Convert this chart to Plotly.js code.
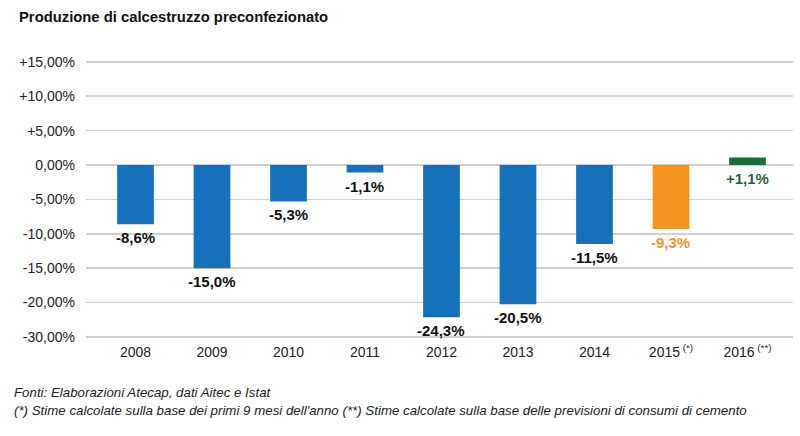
<!DOCTYPE html>
<html><head><meta charset="utf-8">
<script src="https://cdn.plot.ly/plotly-3.0.1.min.js"></script>
<style>html,body{margin:0;padding:0;background:#fff;}#chart{width:800px;height:436px;}</style>
</head><body><div id="chart"></div>
<script>
const years = ["2008","2009","2010","2011","2012","2013","2014","2015","2016"];
const yearLabels = ["2008","2009","2010","2011","2012","2013","2014","2015<sup> (*)</sup>","2016<sup> (**)</sup>"];
const values = [-8.6,-15.0,-5.3,-1.1,-24.3,-20.5,-11.5,-9.3,1.1];
const barColors = ["#1671bd","#1671bd","#1671bd","#1671bd","#1671bd","#1671bd","#1671bd","#f5931f","#1c6b3b"];
const labelColors = ["#111","#111","#111","#111","#111","#111","#111","#f5931f","#1c6b3b"];
const yTickVals = [15,10,5,0,-5,-10,-15,-20,-30];
const yTickText = ["+15,00%","+10,00%","+5,00%","0,00%","-5,00%","-10,00%","-15,00%","-20,00%","-30,00%"];

// The reference axis is broken: the last interval (-20 to -30) is drawn at half scale.
function scale(v){ return v >= -20 ? v : -20 + (v + 20) / 2; }

function fmt(v){ return (v>0?"+":"") + v.toFixed(1).replace(".",",") + "%"; }
const FONT = "Liberation Sans, Arial, sans-serif";

const annotations = values.map((v,i)=>({
  x: i, y: v>0 ? 0 : scale(v), xref:"x", yref:"y", text: fmt(v), showarrow:false,
  yanchor:"top", yshift: -3,
  font:{family:FONT, size:15, color:labelColors[i], weight:700}
}));
annotations.push({xref:"paper",yref:"paper",x:-0.097,y:1.132,xanchor:"left",yanchor:"middle",showarrow:false,
  text:"<b>Produzione di calcestruzzo preconfezionato</b>",
  font:{family:FONT,size:14.8,color:"#111"}});
annotations.push({xref:"paper",yref:"paper",x:-0.104,y:-0.175,xanchor:"left",yanchor:"middle",showarrow:false,align:"left",
  text:"<i>Fonti: Elaborazioni Atecap, dati Aitec e Istat</i>",
  font:{family:FONT,size:13.3,color:"#222"}});
annotations.push({xref:"paper",yref:"paper",x:-0.104,y:-0.238,xanchor:"left",yanchor:"middle",showarrow:false,align:"left",
  text:"<i>(*) Stime calcolate sulla base dei primi 9 mesi dell'anno (**) Stime calcolate sulla base delle previsioni di consumi di cemento</i>",
  font:{family:FONT,size:13.3,color:"#222"}});

const trace = {
  type:"bar", x: years.map((y,i)=>i), y: values.map(scale), width:0.48,
  marker:{color:barColors, line:{width:0}}, hoverinfo:"skip"
};

const layout = {
  width:800, height:436,
  margin:{l:86, r:7, t:55, b:94},
  paper_bgcolor:"#fff", plot_bgcolor:"#fff",
  showlegend:false,
  font:{family:FONT, color:"#222"},
  xaxis:{range:[-0.647,8.595], tickvals:years.map((y,i)=>i), ticktext:yearLabels,
    showgrid:false, zeroline:false, showline:false, ticks:"", tickfont:{size:14,color:"#222"}, fixedrange:true},
  yaxis:{range:[-25.73,15.99], tickvals:yTickVals.map(scale), ticktext:yTickText,
    showgrid:true, gridcolor:"#cfcfcf", gridwidth:1.5, zeroline:false, showline:false,
    ticks:"", ticklabelstandoff:10, tickfont:{size:14,color:"#222"}, fixedrange:true},
  annotations: annotations
};
Plotly.newPlot("chart",[trace],layout,{displayModeBar:false,staticPlot:true});
</script></body></html>
